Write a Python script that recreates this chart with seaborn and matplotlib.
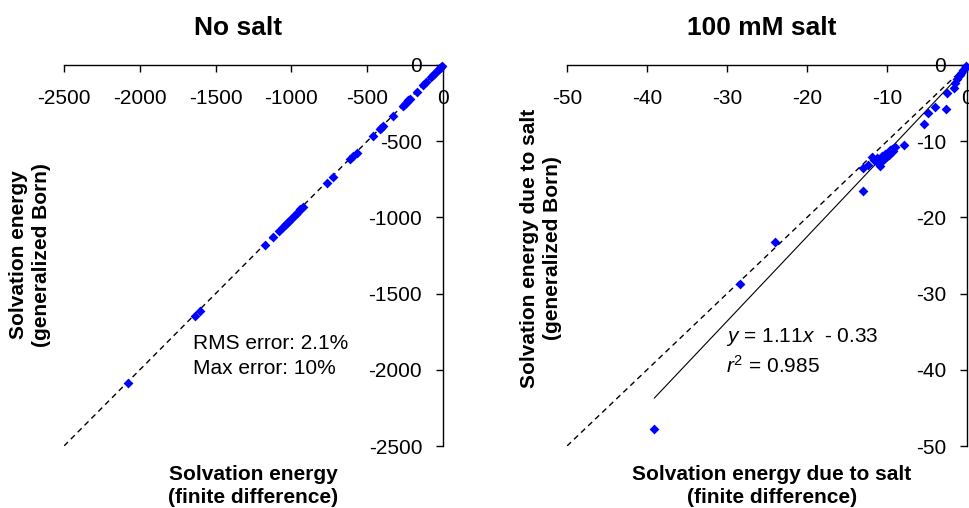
import matplotlib
matplotlib.use("Agg")
import matplotlib.pyplot as plt
import seaborn as sns

# solvation energies, no salt (finite difference vs generalized Born)
fd_nosalt = [-5, -12, -20, -28, -40, -52, -66, -80, -112, -130, -172, -218, -230,
             -238, -250, -264, -330, -396, -410, -416, -462, -568, -594, -614,
             -726, -766, -924, -940, -955, -970, -985, -1000, -1015, -1030,
             -1045, -1056, -1082, -1122, -1175, -1604, -1637, -2079]
gb_nosalt = [-5, -13, -21, -29, -41, -53, -67, -82, -114, -132, -175, -221, -232,
             -241, -254, -268, -334, -402, -414, -421, -468, -575, -600, -620,
             -733, -772, -931, -946, -962, -976, -992, -1008, -1022, -1036,
             -1051, -1062, -1090, -1128, -1181, -1612, -1646, -2085]

# salt contribution, 100 mM
fd_salt = [-39.1, -28.4, -24.0, -13.0, -13.0, -12.4, -11.9, -10.9, -11.6, -11.3,
           -11.1, -10.8, -10.6, -10.4, -10.2, -10.0, -9.8, -9.6, -9.4, -9.2,
           -9.0, -10.7, -10.1, -9.7, -7.9, -5.4, -4.9, -4.0, -2.6, -2.5, -1.6,
           -1.5, -1.2, -0.9, -0.7, -0.5, -0.3, -0.1]
gb_salt = [-47.8, -28.7, -23.2, -16.5, -13.5, -13.1, -12.1, -13.3, -12.5, -12.2,
           -12.8, -12.4, -11.9, -12.3, -11.7, -11.9, -11.5, -11.2, -11.0, -11.3,
           -10.7, -12.7, -12.1, -11.8, -10.5, -7.7, -6.3, -5.5, -5.8, -3.7, -3.0,
           -2.4, -1.9, -1.3, -1.0, -0.7, -0.4, -0.1]

diag_nosalt = [-2500, 0]
diag_salt = [-50, 0]
fit_x = [-39.1, 0]
fit_y = [-43.73, -0.33]

ticks_nosalt = [-2500, -2000, -1500, -1000, -500, 0]
ticks_salt = [-50, -40, -30, -20, -10, 0]

sns.set_style("white")
plt.rcParams['font.family'] = ['Liberation Sans', 'DejaVu Sans']
plt.rcParams['text.color'] = 'black'
plt.rcParams['axes.labelcolor'] = 'black'
plt.rcParams['axes.unicode_minus'] = False
plt.rcParams['mathtext.fontset'] = 'custom'
plt.rcParams['mathtext.rm'] = 'Liberation Sans'
plt.rcParams['mathtext.it'] = 'Liberation Sans:italic'

W, H = 969, 508
fig = plt.figure(figsize=(W / 100, H / 100), dpi=100)
ax1 = fig.add_axes([64 / W, 62 / H, 379 / W, 381 / H])
ax2 = fig.add_axes([567 / W, 62 / H, 400 / W, 381 / H])


def style_axes(ax, ticks):
    ax.set_xlim(ticks[0], ticks[-1])
    ax.set_ylim(ticks[0], ticks[-1])
    ax.set_xticks(ticks)
    ax.set_yticks(ticks)
    ax.spines['left'].set_position(('data', 0))
    ax.spines['bottom'].set_position(('data', 0))
    ax.spines['top'].set_visible(False)
    ax.spines['right'].set_visible(False)
    for s in ['left', 'bottom']:
        ax.spines[s].set_color('black')
        ax.spines[s].set_linewidth(1)
    ax.tick_params(direction='out', length=5, width=1, labelsize=15,
                   colors='black', left=True, bottom=True)
    ax.tick_params(axis='x', pad=12)
    ax.tick_params(axis='y', pad=10)
    ax.set_xlabel('')
    ax.set_ylabel('')
    ax.grid(False)


# no salt panel
ax1.plot(diag_nosalt, diag_nosalt, color='black', lw=1, ls=(0, (4, 3)))
sns.scatterplot(x=fd_nosalt, y=gb_nosalt, marker='D', s=25, color='#0000FF',
                linewidth=0, ax=ax1, clip_on=False, zorder=3)
style_axes(ax1, ticks_nosalt)
ax1.text(-1650, -1765, "RMS error: 2.1%\nMax error: 10%", fontsize=15,
         ha='left', va='top', linespacing=1.4)

# 100 mM salt panel
ax2.plot(diag_salt, diag_salt, color='black', lw=1, ls=(0, (4, 3)))
ax2.plot(fit_x, fit_y, color='black', lw=0.8)
sns.scatterplot(x=fd_salt, y=gb_salt, marker='D', s=25, color='#0000FF',
                linewidth=0, ax=ax2, clip_on=False, zorder=3)
style_axes(ax2, ticks_salt)
ax2.text(-30.1, -36.4, r'$\mathit{y}$ = 1.11$\mathit{x}$  - 0.33', fontsize=15,
         ha='left', va='baseline')
ax2.text(-30.1, -40.4, r'$\mathit{r}^\mathrm{2}$ = 0.985', fontsize=15,
         ha='left', va='baseline')

# titles and axis labels
fig.text(238 / W, 1 - 28 / H, 'No salt', fontsize=19, fontweight='bold',
         ha='center', va='center')
fig.text(762 / W, 1 - 28 / H, '100 mM salt', fontsize=19, fontweight='bold',
         ha='center', va='center')
fig.text(253 / W, 1 - 486 / H, 'Solvation energy\n(finite difference)',
         fontsize=15, fontweight='bold', ha='center', va='center', linespacing=1.3)
fig.text(772 / W, 1 - 486 / H, 'Solvation energy due to salt\n(finite difference)',
         fontsize=15, fontweight='bold', ha='center', va='center', linespacing=1.3)
fig.text(30 / W, 1 - 255 / H, 'Solvation energy\n(generalized Born)',
         fontsize=15, fontweight='bold', ha='center', va='center', rotation=90,
         linespacing=1.3)
fig.text(541 / W, 1 - 248 / H, 'Solvation energy due to salt\n(generalized Born)',
         fontsize=15, fontweight='bold', ha='center', va='center', rotation=90,
         linespacing=1.3)

fig.savefig('out.png', dpi=100, facecolor='white')
